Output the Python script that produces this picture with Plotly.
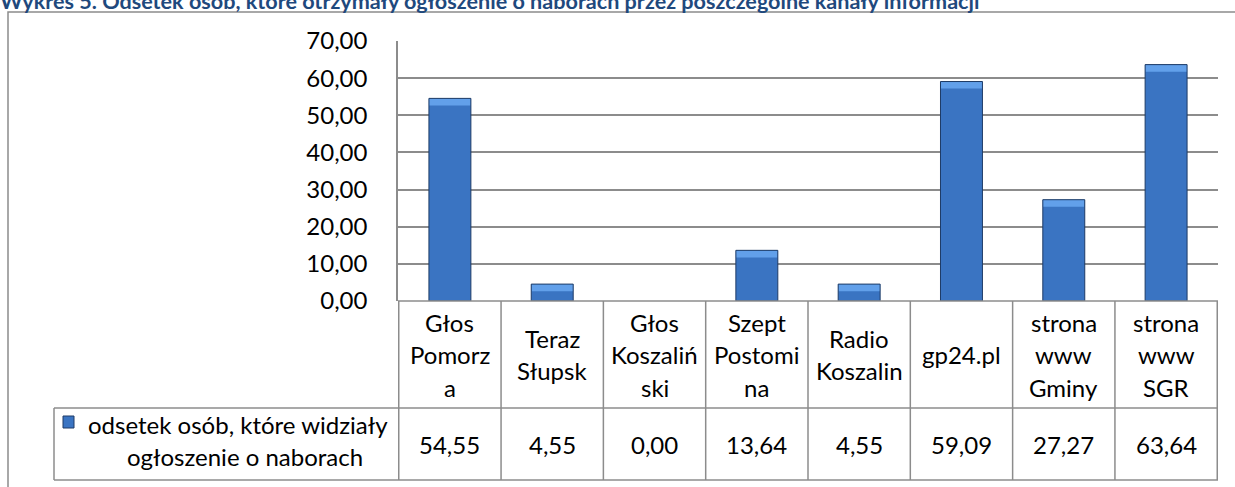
import plotly.graph_objects as go

# dane z wykresu
tytul = "Wykres 5. Odsetek osób, które otrzymały ogłoszenie o naborach przez poszczególne kanały informacji"
kanaly = [
    "Głos\nPomorz\na",
    "Teraz\nSłupsk",
    "Głos\nKoszaliń\nski",
    "Szept\nPostomi\nna",
    "Radio\nKoszalin",
    "gp24.pl",
    "strona\nwww\nGminy",
    "strona\nwww\nSGR",
]
odsetek = [54.55, 4.55, 0.00, 13.64, 4.55, 59.09, 27.27, 63.64]
seria = ["odsetek osób, które widziały", "ogłoszenie o naborach"]
y_ticks = [0, 10, 20, 30, 40, 50, 60, 70]

W, H = 1235, 487
FONT = "Lato"
ROZM = 24
SZARY = "#8C8C8C"
NIEBIESKI = "#3A74C2"
CIEMNY = "#1E3B66"


def px(x):
    return x / W


def py(y):
    return 1 - y / H


fig = go.Figure()

# słupki - wypełnienie
fig.add_trace(go.Bar(
    x=kanaly,
    y=odsetek,
    width=0.41,
    marker=dict(color=NIEBIESKI, line=dict(width=0)),
    showlegend=False,
))

# jaśniejsza górna krawędź (bevel)
bevel = 1.9
niezerowe = [(k, v) for k, v in zip(kanaly, odsetek) if v > 0]
fig.add_trace(go.Bar(
    x=[k for k, v in niezerowe],
    y=[bevel for k, v in niezerowe],
    base=[v - bevel for k, v in niezerowe],
    width=0.41,
    marker=dict(color="#62A0EA", line=dict(width=0)),
    showlegend=False,
))

# obrys słupków
fig.add_trace(go.Bar(
    x=[k for k, v in niezerowe],
    y=[v for k, v in niezerowe],
    width=0.41,
    marker=dict(color="rgba(0,0,0,0)", line=dict(color=CIEMNY, width=1)),
    showlegend=False,
))

shapes = []
annotations = []

# ramka całego wykresu
shapes.append(dict(type="rect", xref="paper", yref="paper",
                   x0=px(8), x1=1.02, y0=-0.02, y1=py(12),
                   line=dict(color=SZARY, width=1.5)))

# tabela danych - linie poziome
TOP, MID, BOT = 301, 408, 480
shapes.append(dict(type="line", xref="paper", yref="paper",
                   x0=px(398), x1=px(1218), y0=py(TOP), y1=py(TOP),
                   line=dict(color=SZARY, width=1.5)))
for yy in (MID, BOT):
    shapes.append(dict(type="line", xref="paper", yref="paper",
                       x0=px(54), x1=px(1218), y0=py(yy), y1=py(yy),
                       line=dict(color=SZARY, width=1.5)))
# linie pionowe na granicach kategorii
for i in range(len(kanaly) + 1):
    shapes.append(dict(type="line", xref="x", yref="paper",
                       x0=i - 0.5, x1=i - 0.5, y0=py(TOP), y1=py(BOT),
                       line=dict(color=SZARY, width=1.5)))
shapes.append(dict(type="line", xref="paper", yref="paper",
                   x0=px(54), x1=px(54), y0=py(MID), y1=py(BOT),
                   line=dict(color=SZARY, width=1.5)))

# klucz legendy
shapes.append(dict(type="rect", xref="paper", yref="paper",
                   x0=px(63), x1=px(74), y0=py(428), y1=py(416),
                   fillcolor=NIEBIESKI, line=dict(color=CIEMNY, width=1)))

# nagłówki kolumn
for k in kanaly:
    linie = k.split("\n")
    n = len(linie)
    for j, t in enumerate(linie):
        yc = (TOP + MID) / 2 + (j - (n - 1) / 2) * 32.5
        annotations.append(dict(x=k, xref="x", y=py(yc), yref="paper",
                                text=t, showarrow=False, xanchor="center",
                                yanchor="middle",
                                font=dict(family=FONT, size=ROZM, color="black")))

# wartości
for k, v in zip(kanaly, odsetek):
    annotations.append(dict(x=k, xref="x", y=py((MID + BOT) / 2), yref="paper",
                            text=f"{v:.2f}".replace(".", ","), showarrow=False,
                            xanchor="center", yanchor="middle",
                            font=dict(family=FONT, size=ROZM, color="black")))

# opis serii
annotations.append(dict(x=px(238), y=py(424), xref="paper", yref="paper",
                        text=seria[0], showarrow=False, xanchor="center",
                        yanchor="middle",
                        font=dict(family=FONT, size=ROZM, color="black")))
annotations.append(dict(x=px(245), y=py(456), xref="paper", yref="paper",
                        text=seria[1], showarrow=False, xanchor="center",
                        yanchor="middle",
                        font=dict(family=FONT, size=ROZM, color="black")))

fig.update_layout(
    width=W,
    height=H,
    margin=dict(l=0, r=0, t=0, b=0),
    plot_bgcolor="white",
    paper_bgcolor="white",
    separators=", ",
    barmode="overlay",
    font=dict(family=FONT, size=ROZM, color="black"),
    # tytuł przycięty u góry jak w oryginale
    title=dict(
        text=f"<b>{tytul}</b>",
        x=0, xanchor="left", xref="container",
        y=1 - 1 / H, yanchor="middle", yref="container",
        font=dict(family=FONT, size=21.6, color="#1F497D"),
    ),
    shapes=shapes,
    annotations=annotations,
    xaxis=dict(
        domain=[px(398), px(1218)],
        showticklabels=False,
        showgrid=False,
        zeroline=False,
        automargin=False,
        ticks="",
        categoryorder="array",
        categoryarray=kanaly,
    ),
    yaxis=dict(
        domain=[py(301), py(41)],
        range=[0, 70],
        tickvals=y_ticks,
        tickformat=".2f",
        showgrid=True,
        gridcolor=SZARY,
        gridwidth=1.5,
        zeroline=False,
        showline=True,
        linecolor=SZARY,
        linewidth=1.5,
        automargin=False,
        ticks="",
        ticklabelstandoff=24,
        tickfont=dict(family=FONT, size=ROZM, color="black"),
    ),
)

# bez domyślnego marginesu strony, żeby wykres zaczynał się w (0, 0)
fig.write_html("out.html", config={"displayModeBar": False},
               post_script="document.body.style.margin='0';")
